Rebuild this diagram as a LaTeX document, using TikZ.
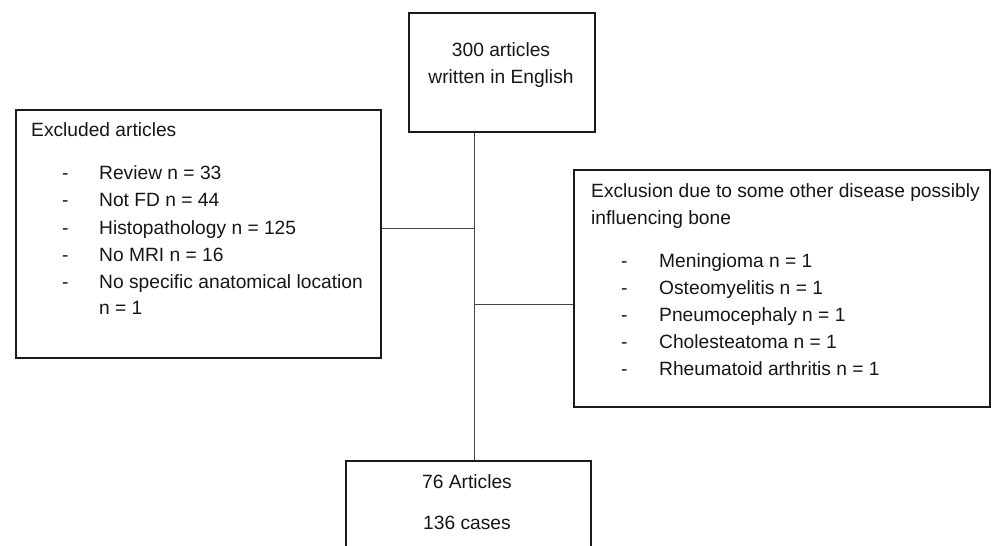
\documentclass[tikz,border=0pt]{standalone}
\usepackage{fontspec}
\setmainfont{Liberation Sans}
\definecolor{ink}{HTML}{161616}
\definecolor{edge}{HTML}{1A1A1A}
\definecolor{wire}{HTML}{444444}
\begin{document}
\begin{tikzpicture}[x=1pt,y=-1pt,
  box/.style={draw=edge, line width=1.8pt, rectangle, inner sep=0pt, anchor=north west},
  conn/.style={draw=wire, line width=0.9pt},
  txt/.style={inner sep=0pt, text=ink, font=\fontsize{19.2}{23}\selectfont, anchor=base west},
  ctxt/.style={inner sep=0pt, text=ink, font=\fontsize{19.2}{23}\selectfont, anchor=base}]
\useasboundingbox (0,0) rectangle (997,546);
\clip (0,0) rectangle (997,546);
% boxes
\node[box, minimum width=186pt, minimum height=119pt] (top) at (408,12) {};
\node[box, minimum width=365pt, minimum height=248pt] (left) at (15,109) {};
\node[box, minimum width=416pt, minimum height=237pt] (right) at (573,169) {};
\node[box, minimum width=245pt, minimum height=100pt] (bot) at (345,460) {};
% top box text
\node[ctxt] (t1) at (501,56.5) {300 articles};
\node[ctxt] (t2) at (501,83.5) {written in English};
% left box text
\node[txt] (l0) at (31,136.5) {Excluded articles};
\node[txt] (ld1) at (62,179.5) {-};
\node[txt] (l1) at (99,179.5) {Review n = 33};
\node[txt] (ld2) at (62,206.5) {-};
\node[txt] (l2) at (99,206.5) {Not FD n = 44};
\node[txt] (ld3) at (62,234) {-};
\node[txt] (l3) at (99,234) {Histopathology n = 125};
\node[txt] (ld4) at (62,261) {-};
\node[txt] (l4) at (99,261) {No MRI n = 16};
\node[txt] (ld5) at (62,288) {-};
\node[txt] (l5) at (99,288) {No specific anatomical location};
\node[txt] (l6) at (99,314.5) {n = 1};
% right box text
\node[txt] (r0) at (591,197) {Exclusion due to some other disease possibly};
\node[txt] (r0b) at (591,224) {influencing bone};
\node[txt] (rd1) at (621,267) {-};
\node[txt] (r1) at (659,267) {Meningioma n = 1};
\node[txt] (rd2) at (621,294) {-};
\node[txt] (r2) at (659,294) {Osteomyelitis n = 1};
\node[txt] (rd3) at (621,321) {-};
\node[txt] (r3) at (659,321) {Pneumocephaly n = 1};
\node[txt] (rd4) at (621,348) {-};
\node[txt] (r4) at (659,348) {Cholesteatoma n = 1};
\node[txt] (rd5) at (621,375) {-};
\node[txt] (r5) at (659,375) {Rheumatoid arthritis n = 1};
% bottom box text
\node[ctxt] (b1) at (467,488.5) {76 Articles};
\node[ctxt] (b2) at (467,529.5) {136 cases};
% connectors
\coordinate (jl) at (474,228);
\coordinate (jr) at (474,304);
\draw[conn] (top.south -| jl) -- (bot.north -| jl);
\draw[conn] (left.east |- jl) -- (jl);
\draw[conn] (jr) -- (right.west |- jr);
\end{tikzpicture}
\end{document}
